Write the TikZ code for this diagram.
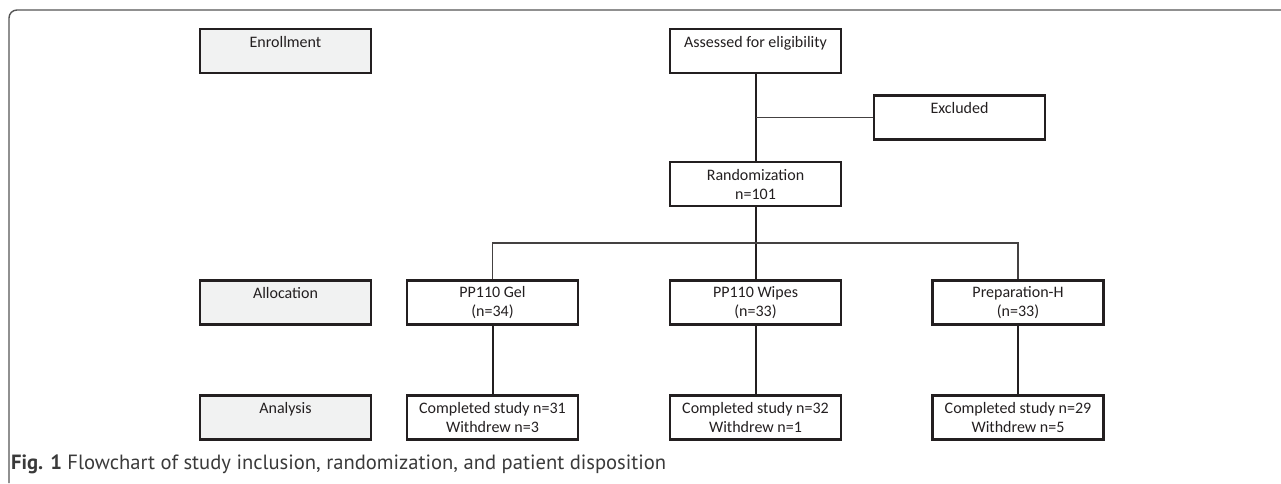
\documentclass[tikz,border=0pt]{standalone}
\usepackage{fontspec}
\setmainfont{Carlito}
\newfontfamily\capfont{PT Sans}
\definecolor{boxc}{HTML}{231F20}
\definecolor{fillc}{HTML}{F1F2F2}
\definecolor{framec}{HTML}{555555}
\definecolor{capc}{HTML}{3A3A3A}
\tikzset{
  fbox/.style={draw=boxc, line width=2.1pt, minimum width=171pt, minimum height=44pt,
    inner sep=0pt, align=center, text=boxc,
    font=\fontsize{16pt}{19pt}\selectfont},
  stagebox/.style={fbox, fill=fillc},
  thickline/.style={draw=boxc, line width=2pt},
  thinline/.style={draw=boxc!85, line width=1.3pt},
}
\begin{document}
\begin{tikzpicture}[x=1pt,y=-1pt]
\useasboundingbox (0,0) rectangle (1281,483);
\draw[framec, line width=1.4pt, rounded corners=8pt] (9,483) -- (9,10) -- (1281,10);

\node[stagebox] (enroll) at (285.5,51) {Enrollment\\\mbox{}};
\node[stagebox] (alloc) at (285.5,302.5) {Allocation\\\mbox{}};
\node[stagebox] (anal) at (285.5,417.5) {Analysis\\\mbox{}};

\node[fbox] (assess) at (755.5,51) {Assessed for eligibility\\\mbox{}};
\node[fbox] (excl) at (959.5,117.5) {Excluded\\\mbox{}};
\node[fbox] (rand) at (755.5,184) {Randomization\\n=101};

\node[fbox] (gel) at (492.5,302.5) {PP110 Gel\\(n=34)};
\node[fbox] (wipes) at (755.5,302.5) {PP110 Wipes\\(n=33)};
\node[fbox] (prep) at (1018,302.5) {Preparation-H\\(n=33)};

\node[fbox] (gelA) at (492.5,417.5) {Completed study n=31\\Withdrew n=3};
\node[fbox] (wipesA) at (755.5,417.5) {Completed study n=32\\Withdrew n=1};
\node[fbox] (prepA) at (1018,417.5) {Completed study n=29\\Withdrew n=5};

\coordinate (bus) at (755.5,243);

\draw[thickline] (assess.south) -- (rand.north);
\draw[thinline] (assess.south |- excl.west) -- (excl.west);
\draw[thickline] (rand.south) -- (wipes.north);
\draw[thinline] (gel.north) |- (bus) -| (prep.north);
\draw[thickline] (gel.south) -- (gelA.north);
\draw[thickline] (wipes.south) -- (wipesA.north);
\draw[thickline] (prep.south) -- (prepA.north);

\node[anchor=base west, inner sep=0pt, text=capc, font=\capfont\fontsize{20.6pt}{24pt}\selectfont] (cap) at (11,469)
  {\textbf{Fig. 1} Flowchart of study inclusion, randomization, and patient disposition};
\end{tikzpicture}
\end{document}
